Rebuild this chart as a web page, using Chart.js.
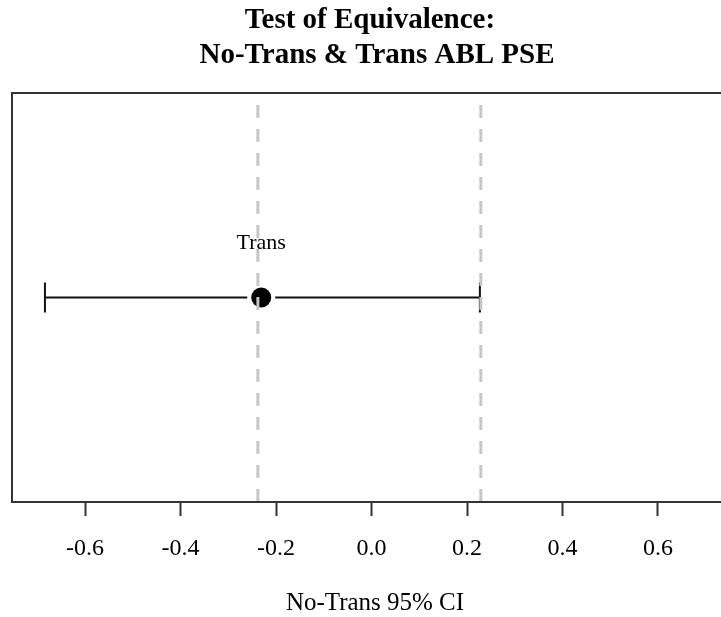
<!DOCTYPE html>
<html>
<head>
<meta charset="utf-8">
<script src="https://cdn.jsdelivr.net/npm/chart.js@4"></script>
<style>
  html, body { margin: 0; padding: 0; background: #fff; }
  #wrap { width: 721px; height: 617px; }
</style>
</head>
<body>
<div id="wrap"><canvas id="equivChart"></canvas></div>
<script>
// dados
const categories = ['Trans'];
const estimates = [-0.231];
const ciLower = [-0.684];
const ciUpper = [0.227];
const equivBounds = [-0.238, 0.229];
const xTicks = [-0.6, -0.4, -0.2, 0.0, 0.2, 0.4, 0.6];

const titleLines = ['Test of Equivalence:', 'No-Trans & Trans ABL PSE'];
const xLabel = 'No-Trans 95% CI';

const SERIF = '"Liberation Serif", "Times New Roman", serif';

// barras de erro, moldura, textos
const equivPlugin = {
    id: 'equivPlugin',
    beforeDatasetsDraw(chart) {
        const ctx = chart.ctx;
        const x = chart.scales.x, y = chart.scales.y;
        ctx.save();
        ctx.strokeStyle = '#111';
        ctx.lineWidth = 2;
        categories.forEach((c, i) => {
            const py = y.getPixelForValue(i + 1);
            const lo = x.getPixelForValue(ciLower[i]);
            const hi = x.getPixelForValue(ciUpper[i]);
            const mid = x.getPixelForValue(estimates[i]);
            const gap = 14;
            ctx.beginPath();
            ctx.moveTo(lo, py); ctx.lineTo(mid - gap, py);
            ctx.moveTo(mid + gap, py); ctx.lineTo(hi, py);
            ctx.moveTo(lo, py - 15); ctx.lineTo(lo, py + 15);
            ctx.moveTo(hi, py - 15); ctx.lineTo(hi, py + 15);
            ctx.stroke();
        });
        ctx.restore();
    },
    afterDraw(chart) {
        const ctx = chart.ctx;
        const a = chart.chartArea;
        const x = chart.scales.x, y = chart.scales.y;
        ctx.save();
        // moldura (lado direito fica fora da tela)
        ctx.strokeStyle = '#333';
        ctx.lineWidth = 2;
        ctx.beginPath();
        ctx.moveTo(a.right + 5, a.top);
        ctx.lineTo(a.left, a.top);
        ctx.lineTo(a.left, a.bottom);
        ctx.lineTo(a.right + 5, a.bottom);
        ctx.stroke();

        ctx.fillStyle = '#000';
        ctx.textAlign = 'center';
        ctx.textBaseline = 'middle';
        // rótulo do ponto
        ctx.font = '22px ' + SERIF;
        categories.forEach((c, i) => {
            ctx.fillText(c, x.getPixelForValue(estimates[i]), y.getPixelForValue(i + 1) - 54);
        });
        // título
        ctx.font = 'bold 29px ' + SERIF;
        ctx.fillText(titleLines[0], 370, 21);
        ctx.fillText(titleLines[1], 377, 56);
        // título do eixo
        ctx.font = '25px ' + SERIF;
        ctx.fillText(xLabel, 375, 603);
        ctx.restore();
    }
};

const datasets = [];
equivBounds.forEach(b => {
    datasets.push({
        data: [{ x: b, y: 0 }, { x: b, y: 2 }],
        showLine: true,
        borderColor: '#c6c6c6',
        borderWidth: 3,
        borderDash: [13, 11],
        pointRadius: 0,
        order: 0
    });
});
datasets.push({
    data: categories.map((c, i) => ({ x: estimates[i], y: i + 1 })),
    pointRadius: 10,
    pointHoverRadius: 10,
    backgroundColor: '#000',
    borderColor: '#000',
    borderWidth: 0,
    order: 1
});

new Chart(document.getElementById('equivChart'), {
    type: 'scatter',
    data: { datasets },
    options: {
        responsive: true,
        maintainAspectRatio: false,
        animation: false,
        layout: { autoPadding: false, padding: { top: 93, left: 12, right: 0, bottom: 0 } },
        plugins: {
            legend: { display: false },
            tooltip: { enabled: false },
            title: { display: false }
        },
        scales: {
            x: {
                type: 'linear',
                min: -0.753,
                max: 0.732,
                afterBuildTicks: scale => {
                    scale.ticks = xTicks.map(v => ({ value: v }));
                },
                afterFit: scale => { scale.height = 115; },
                grid: {
                    drawOnChartArea: false,
                    drawTicks: true,
                    tickLength: 14,
                    tickWidth: 2,
                    tickColor: '#333'
                },
                border: { display: true, color: '#333', width: 2 },
                ticks: {
                    color: '#000',
                    padding: 18,
                    maxRotation: 0,
                    autoSkip: false,
                    font: { family: SERIF, size: 24 },
                    callback: v => Number(v).toFixed(1)
                }
            },
            y: {
                type: 'linear',
                min: 0,
                max: 2,
                display: false
            }
        }
    },
    plugins: [equivPlugin]
});
</script>
</body>
</html>
